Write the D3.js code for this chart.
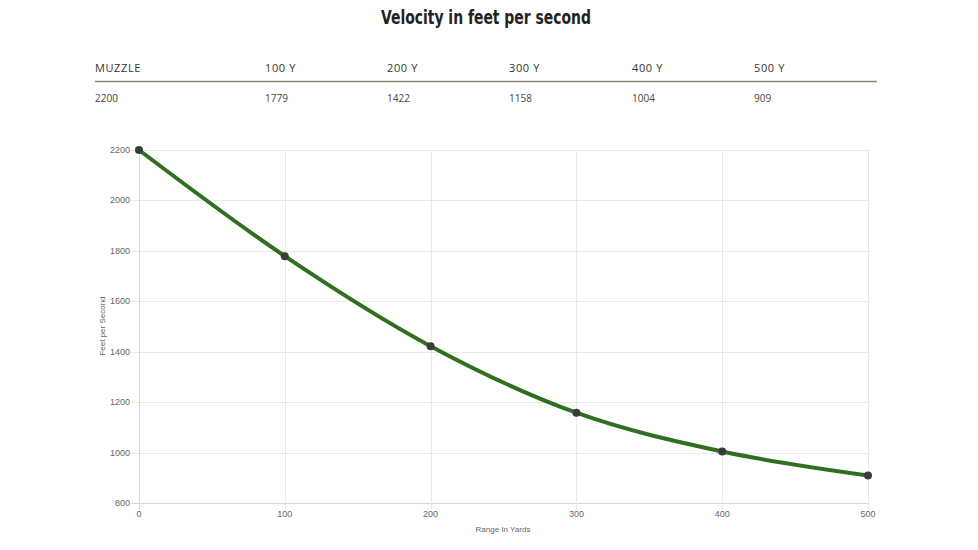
<!DOCTYPE html>
<html>
<head>
<meta charset="utf-8">
<script src="https://cdn.jsdelivr.net/npm/d3@7"></script>
<style>
  body { margin: 0; background: #fff; }
  svg { display: block; }
</style>
</head>
<body>
<svg id="chart"></svg>
<script>
/*Chart data*/
const rangeHeaders = ["MUZZLE", "100 Y", "200 Y", "300 Y", "400 Y", "500 Y"];
const rangeYards = [0, 100, 200, 300, 400, 500];
const velocity = [2200, 1779, 1422, 1158, 1004, 909];
const yTicks = [800, 1000, 1200, 1400, 1600, 1800, 2000, 2200];
const xTicks = [0, 100, 200, 300, 400, 500];

const width = 978;
const height = 550;

const svg = d3.select("#chart")
       .attr("width", width)
       .attr("height", height);

/*Title*/
svg.append("text")
       .text("Velocity in feet per second")
       .attr("x", 486)
       .attr("y", 24)
       .attr("text-anchor", "middle")
       .attr("textLength", 210)
       .attr("lengthAdjust", "spacingAndGlyphs")
       .style("font-family", "'DejaVu Sans', sans-serif")
       .style("font-stretch", "condensed")
       .style("font-weight", "bold")
       .style("font-size", "19px")
       .style("fill", "#222");

/*Table above chart*/
const colX = [95, 265, 387, 509, 632, 754];
const table = svg.append("g").attr("id", "table");

table.selectAll(".head")
       .data(rangeHeaders)
       .enter()
       .append("text")
       .attr("class", "head")
       .attr("x", (d, i) => colX[i])
       .attr("y", 72)
       .text(d => d)
       .style("font-family", "'Open Sans', sans-serif")
       .style("font-size", "11px")
       .style("letter-spacing", "0.6px")
       .style("fill", "#333");

table.append("line")
       .attr("x1", 95).attr("x2", 877)
       .attr("y1", 81.5).attr("y2", 81.5)
       .style("stroke", "#8d8676")
       .style("stroke-width", 1.5);

table.selectAll(".val")
       .data(velocity)
       .enter()
       .append("text")
       .attr("class", "val")
       .attr("x", (d, i) => colX[i])
       .attr("y", 102)
       .text(d => d)
       .style("font-family", "'Open Sans', sans-serif")
       .style("font-size", "10px")
       .style("fill", "#444");

/*Chart area*/
const x = d3.scaleLinear().domain([0, 500]).range([139, 868]);
const y = d3.scaleLinear().domain([800, 2200]).range([503, 150]);

const grid = svg.append("g").attr("id", "grid");

grid.selectAll(".hgrid")
       .data(yTicks)
       .enter()
       .append("line")
       .attr("x1", 131).attr("x2", 868)
       .attr("y1", d => Math.round(y(d)) + 0.5)
       .attr("y2", d => Math.round(y(d)) + 0.5)
       .style("stroke", d => d === 800 ? "#d8d8d8" : "#e8e8e8");

grid.selectAll(".vgrid")
       .data(xTicks)
       .enter()
       .append("line")
       .attr("x1", d => Math.round(x(d)) + 0.5)
       .attr("x2", d => Math.round(x(d)) + 0.5)
       .attr("y1", 150).attr("y2", 510)
       .style("stroke", d => d === 0 ? "#d8d8d8" : "#e8e8e8");

/*Tick labels*/
svg.selectAll(".ylab")
       .data(yTicks)
       .enter()
       .append("text")
       .attr("x", 130)
       .attr("y", d => y(d) + 3)
       .attr("text-anchor", "end")
       .text(d => d)
       .style("font-family", "'Liberation Sans', Arial, sans-serif")
       .style("font-size", "9px")
       .style("fill", "#666");

svg.selectAll(".xlab")
       .data(xTicks)
       .enter()
       .append("text")
       .attr("x", d => x(d))
       .attr("y", 517)
       .attr("text-anchor", "middle")
       .text(d => d)
       .style("font-family", "'Liberation Sans', Arial, sans-serif")
       .style("font-size", "9px")
       .style("fill", "#666");

/*Axis titles*/
svg.append("text")
       .text("Range In Yards")
       .attr("x", 503)
       .attr("y", 532)
       .attr("text-anchor", "middle")
       .style("font-family", "'Liberation Sans', Arial, sans-serif")
       .style("font-size", "8px")
       .style("fill", "#666");

svg.append("text")
       .text("Feet per Second")
       .attr("transform", "translate(105 326) rotate(-90)")
       .attr("text-anchor", "middle")
       .style("font-family", "'Liberation Sans', Arial, sans-serif")
       .style("font-size", "8px")
       .style("fill", "#666");

/*Velocity line*/
const points = rangeYards.map((r, i) => [r, velocity[i]]);

const line = d3.line()
       .x(d => x(d[0]))
       .y(d => y(d[1]))
       .curve(d3.curveMonotoneX);

svg.append("path")
       .datum(points)
       .attr("d", line)
       .style("fill", "none")
       .style("stroke", "#2f6f1f")
       .style("stroke-width", 4);

svg.selectAll(".pt")
       .data(points)
       .enter()
       .append("circle")
       .attr("cx", d => x(d[0]))
       .attr("cy", d => y(d[1]))
       .attr("r", 4)
       .style("fill", "#3b3b3b");
</script>
</body>
</html>
